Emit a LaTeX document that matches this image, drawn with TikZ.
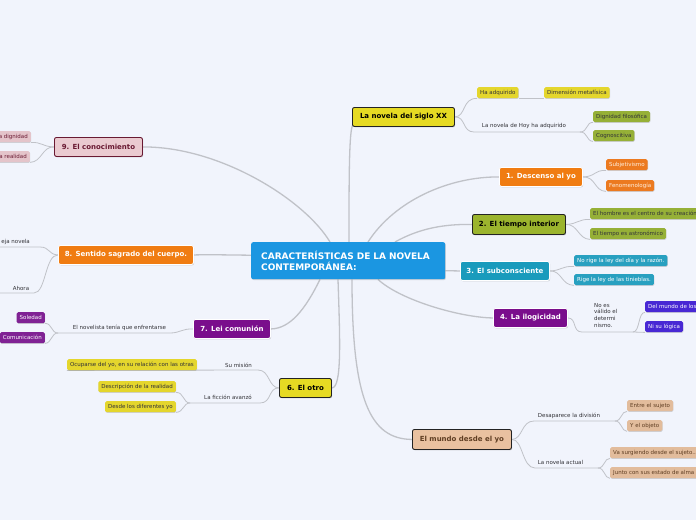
\documentclass[tikz,border=0pt]{standalone}
\usepackage{fontspec}
\setmainfont{DejaVu Sans}
\usetikzlibrary{shadows}
\pgfdeclarelayer{bg}
\pgfsetlayers{bg,main}
\definecolor{bgc}{RGB}{241,244,252}
\definecolor{linec}{RGB}{192,194,200}
\definecolor{cblue}{RGB}{27,150,225}
\definecolor{cyel}{RGB}{230,218,35}
\definecolor{cyelsub}{RGB}{228,214,45}
\definecolor{corange}{RGB}{240,124,18}
\definecolor{corsub}{RGB}{236,122,32}
\definecolor{cgreen}{RGB}{155,180,45}
\definecolor{cgreensub}{RGB}{150,176,55}
\definecolor{cteal}{RGB}{25,155,188}
\definecolor{ctealsub}{RGB}{40,160,192}
\definecolor{cpurple}{RGB}{122,14,140}
\definecolor{cpursub}{RGB}{128,34,148}
\definecolor{cindigo}{RGB}{72,40,212}
\definecolor{ctan}{RGB}{233,193,160}
\definecolor{ctansub}{RGB}{226,188,156}
\definecolor{ctantext}{RGB}{95,62,35}
\definecolor{cpink}{RGB}{234,202,208}
\definecolor{cpinksub}{RGB}{228,196,202}
\definecolor{cmaroon}{RGB}{105,25,50}
\definecolor{cdark}{RGB}{35,35,35}
\definecolor{ctxt}{RGB}{50,50,55}
\begin{document}
\begin{tikzpicture}[x=1pt,y=-1pt,
 mainbox/.style={anchor=north west, rounded corners=2pt, inner sep=0pt, line width=0.9pt,
   font=\fontsize{7}{8}\selectfont\bfseries,
   drop shadow={shadow xshift=0.7pt, shadow yshift=-0.9pt, opacity=0.3}},
 darkedge/.style={draw=cdark},
 lightedge/.style={draw=white},
 subbox/.style={rounded corners=1.5pt, inner xsep=3pt, inner ysep=0pt, minimum height=11pt,
   font=\fontsize{5.5}{6}\selectfont,
   drop shadow={shadow xshift=0.4pt, shadow yshift=-0.7pt, opacity=0.3}},
 rsub/.style={subbox, anchor=north west},
 lsub/.style={subbox, anchor=north east},
 lbl/.style={inner sep=0pt, font=\fontsize{5.5}{6.7}\selectfont, text=ctxt},
 conn/.style={draw=linec, line width=1.3pt},
 sconn/.style={draw=linec, line width=0.8pt},
]
\useasboundingbox (0,0) rectangle (696,520);
\clip (0,0) rectangle (696,520);

% central node
\node[anchor=north west, rounded corners=2pt, fill=cblue, minimum width=194pt, minimum height=37pt,
  inner xsep=10pt, inner ysep=0pt, text width=174pt, align=left, text=white,
  font=\fontsize{9}{11}\selectfont\bfseries,
  drop shadow={shadow xshift=0.7pt, shadow yshift=-0.9pt, opacity=0.3}]
  (center) at (251,242) {CARACTERÍSTICAS DE LA NOVELA\\CONTEMPORÁNEA:};

% main nodes
\node[mainbox, darkedge, fill=cyel, text=black, minimum width=102pt, minimum height=19pt] (lanovela) at (352,107) {La novela del siglo XX};
\node[mainbox, lightedge, fill=corange, text=white, minimum width=83pt, minimum height=19pt] (descenso) at (499,167) {1. Descenso al yo};
\node[mainbox, darkedge, fill=cgreen, text=black, minimum width=93pt, minimum height=20pt] (tiempo) at (472,214) {2. El tiempo interior};
\node[mainbox, lightedge, fill=cteal, text=white, minimum width=89pt, minimum height=19pt] (subcon) at (460,261) {3. El subconsciente};
\node[mainbox, lightedge, fill=cpurple, text=white, minimum width=74pt, minimum height=19pt] (ilog) at (493,308) {4. La ilogicidad};
\node[mainbox, darkedge, fill=ctan, text=ctantext, minimum width=99pt, minimum height=20pt] (mundo) at (412,429) {El mundo desde el yo};
\node[mainbox, darkedge, fill=cyel, text=black, minimum width=52pt, minimum height=19pt] (otro) at (279,378) {6. El otro};
\node[mainbox, lightedge, fill=cpurple, text=white, minimum width=77pt, minimum height=19pt] (lei) at (193,319) {7. Lei comunión};
\node[mainbox, lightedge, fill=corange, text=white, minimum width=135pt, minimum height=19pt] (sentido) at (58,245) {8. Sentido sagrado del cuerpo.};
\node[mainbox, draw=cmaroon, fill=cpink, text=cmaroon, minimum width=88pt, minimum height=19pt] (conoc) at (54,137) {9. El conocimiento};

% right sub boxes
\node[rsub, fill=cyelsub, text=ctxt] (ha) at (477,87) {Ha adquirido};
\node[rsub, fill=cyelsub, text=ctxt] (dim) at (544,87) {Dimensión metafísica};
\node[rsub, fill=cgreensub, text=ctxt] (dig) at (593,111) {Dignidad filosófica};
\node[rsub, fill=cgreensub, text=ctxt] (cog) at (593,130) {Cognoscitiva};
\node[rsub, fill=corsub, text=white!88!orange] (subj) at (606,159) {Subjetivismo};
\node[rsub, fill=corsub, text=white!88!orange] (fen) at (606,180) {Fenomenología};
\node[rsub, fill=cgreensub, text=ctxt] (hombre) at (590,208) {El hombre es el centro de su creación};
\node[rsub, fill=cgreensub, text=ctxt] (astro) at (590,228) {El tiempo es astronómico};
\node[rsub, fill=ctealsub, text=white] (norige) at (574,255) {No rige la ley del día y la razón.};
\node[rsub, fill=ctealsub, text=white] (rige) at (574,274) {Rige la ley de las tinieblas.};
\node[rsub, fill=cindigo, text=white] (delmundo) at (645,301) {Del mundo de los};
\node[rsub, fill=cindigo, text=white] (nisu) at (645,321) {Ni su lógica};
\node[rsub, fill=ctansub, text=ctantext] (entre) at (627,400) {Entre el sujeto};
\node[rsub, fill=ctansub, text=ctantext] (yobj) at (627,420) {Y el objeto};
\node[rsub, fill=ctansub, text=ctantext] (va) at (610,447) {Va surgiendo desde el sujeto...};
\node[rsub, fill=ctansub, text=ctantext] (junto) at (610,467) {Junto con sus estado de alma};

% left sub boxes
\node[lsub, fill=cpinksub, text=cmaroon] (dign) at (31,131) {a dignidad};
\node[lsub, fill=cpinksub, text=cmaroon] (real) at (30,151) {a realidad};
\node[lsub, fill=cpursub, text=white] (soledad) at (45,312) {Soledad};
\node[lsub, fill=cpursub, text=white] (comun) at (45,332) {Comunicación};
\node[lsub, fill=cyelsub, text=ctxt] (ocup) at (197,359) {Ocuparse del yo, en su relación con las otras};
\node[lsub, fill=cyelsub, text=ctxt] (descr) at (176,381) {Descripción de la realidad};
\node[lsub, fill=cyelsub, text=ctxt] (desde) at (176,401) {Desde los diferentes yo};

% labels
\node[lbl] (hoy) at (524,126) {La novela de Hoy ha adquirido};
\node[lbl, anchor=north west, align=left] (noes) at (594,303) {No es\\válido el\\determi\\nismo.};
\node[lbl] (desap) at (569,415.5) {Desaparece la división};
\node[lbl] (actual) at (560.5,462) {La novela actual};
\node[lbl] (mision) at (238.5,365) {Su misión};
\node[lbl] (ficcion) at (228,397) {La ficción avanzó};
\node[lbl] (novelista) at (119.5,328) {El novelista tenía que enfrentarse};
\node[lbl, anchor=east] (vieja) at (30,242) {eja novela};
\node[lbl] (ahora) at (21,288) {Ahora};

% underline points
\coordinate (hoyL) at (474,132); \coordinate (hoyR) at (580,132);
\coordinate (ilL) at (582,332); \coordinate (ilR) at (633,332);
\coordinate (desL) at (534,421); \coordinate (desR) at (615,421);
\coordinate (actL) at (535,468); \coordinate (actR) at (598,468);
\coordinate (misR) at (258,370);
\coordinate (ficR) at (260,403); \coordinate (ficL) at (190,403);
\coordinate (novR) at (170,333); \coordinate (novL) at (58,333);
\coordinate (viejaR) at (40,247); \coordinate (viejaL) at (-2,247);
\coordinate (ahoraR) at (34,293); \coordinate (ahoraL) at (-2,293);

\begin{pgfonlayer}{bg}
\clip (0,0) rectangle (696,520);
\fill[bgc] (0,0) rectangle (696,520);
% main connectors
\draw[conn] ([xshift=98pt]center.north west) .. controls (349,180) and (349,128) .. ([xshift=1pt,yshift=2pt]lanovela.south west);
\draw[conn] ([xshift=117pt]center.north west) .. controls (395,200) and (450,176.5) .. (descenso.west);
\draw[conn] ([xshift=144pt]center.north west) .. controls (420,228) and (445,224) .. (tiempo.west);
\draw[conn] ([yshift=-10pt]center.east) -- (subcon.west);
\draw[conn] ([xshift=127pt]center.south west) .. controls (400,300) and (460,317.5) .. (ilog.west);
\draw[conn] ([xshift=101pt]center.south west) .. controls (352,400) and (370,439) .. (mundo.west);
\draw[conn] ([xshift=87pt]center.south west) .. controls (340,340) and (342,387.5) .. (otro.east);
\draw[conn] ([xshift=69pt]center.south west) .. controls (305,310) and (290,328.5) .. (lei.east);
\draw[conn] ([yshift=5.5pt]center.west) .. controls (230,255) and (210,254.5) .. (sentido.east);
\draw[conn] ([xshift=79pt]center.north west) .. controls (305,200) and (220,146.5) .. (conoc.east);
% sub connectors: La novela del siglo XX
\draw[sconn] (lanovela.east) .. controls (466,116.5) and (462,98) .. (ha.south west);
\draw[sconn] (ha.south east) -- (dim.south west);
\draw[sconn] (lanovela.east) .. controls (466,116.5) and (462,132) .. (hoyL) -- (hoyR);
\draw[sconn] (hoyR) .. controls (588,132) and (586,122) .. (dig.south west);
\draw[sconn] (hoyR) .. controls (588,132) and (586,141) .. (cog.south west);
% Descenso
\draw[sconn] (descenso.east) .. controls (596,176.5) and (594,170) .. (subj.south west);
\draw[sconn] (descenso.east) .. controls (596,176.5) and (594,191) .. (fen.south west);
% Tiempo
\draw[sconn] (tiempo.east) .. controls (578,224) and (578,219) .. (hombre.south west);
\draw[sconn] (tiempo.east) .. controls (578,224) and (578,239) .. (astro.south west);
% Subconsciente
\draw[sconn] (subcon.east) .. controls (562,270.5) and (561,266) .. (norige.south west);
\draw[sconn] (subcon.east) .. controls (562,270.5) and (561,285) .. (rige.south west);
% Ilogicidad
\draw[sconn] (ilog.east) .. controls (577,318) and (572,332) .. (ilL) -- (ilR);
\draw[sconn] (ilR) .. controls (640,332) and (638,312) .. (delmundo.south west);
\draw[sconn] (ilR) -- (nisu.south west);
% Mundo desde el yo
\draw[sconn] (mundo.east) .. controls (523,439) and (521,421) .. (desL) -- (desR);
\draw[sconn] (desR) .. controls (622,421) and (621,411) .. (entre.south west);
\draw[sconn] (desR) .. controls (622,421) and (621,431) .. (yobj.south west);
\draw[sconn] (mundo.east) .. controls (523,439) and (522,468) .. (actL) -- (actR);
\draw[sconn] (actR) .. controls (605,468) and (604,458) .. (va.south west);
\draw[sconn] (actR) .. controls (605,468) and (604,478) .. (junto.south west);
% El otro
\draw[sconn] (otro.west) .. controls (268,387.5) and (270,370) .. (misR) -- (ocup.south west);
\draw[sconn] (otro.west) .. controls (268,387.5) and (272,403) .. (ficR) -- (ficL);
\draw[sconn] (ficL) .. controls (183,403) and (184,392) .. (descr.south east);
\draw[sconn] (ficL) .. controls (183,403) and (184,412) .. (desde.south east);
% Lei comunion
\draw[sconn] (lei.west) .. controls (182,328.5) and (180,333) .. (novR) -- (novL);
\draw[sconn] (novL) .. controls (51,333) and (52,323) .. (soledad.south east);
\draw[sconn] (novL) .. controls (51,333) and (52,343) .. (comun.south east);
% Sentido
\draw[sconn] (sentido.west) .. controls (48,254.5) and (50,247) .. (viejaR) -- (viejaL);
\draw[sconn] (sentido.west) .. controls (45,254.5) and (46,293) .. (ahoraR) -- (ahoraL);
% Conocimiento
\draw[sconn] (conoc.west) .. controls (42,146.5) and (42,142) .. (dign.south east);
\draw[sconn] (conoc.west) .. controls (42,146.5) and (42,162) .. (real.south east);
\end{pgfonlayer}
\end{tikzpicture}
\end{document}
